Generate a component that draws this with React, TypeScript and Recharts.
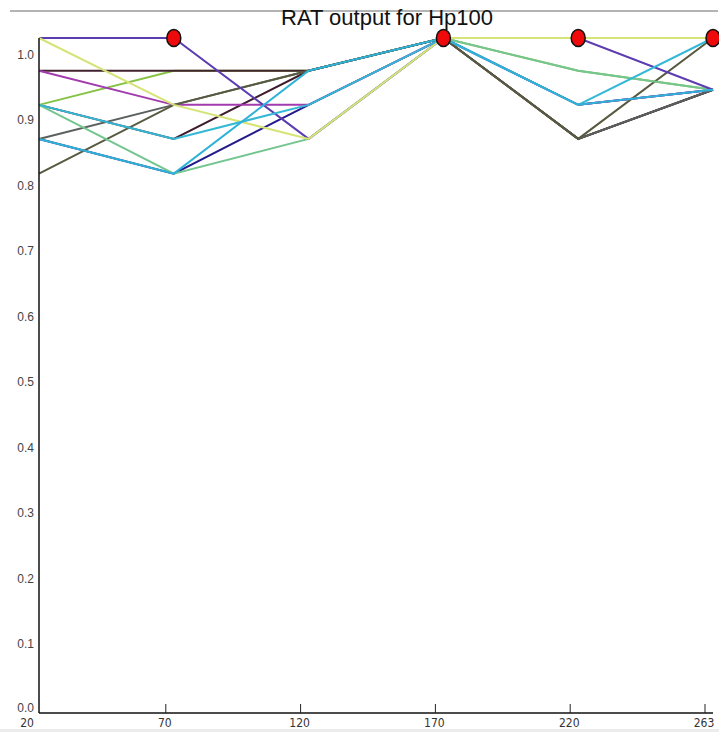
import { LineChart, Line, XAxis, YAxis } from "recharts";

const xLabels = ["20", "70", "120", "170", "220", "263"];
const yTicks = [0, 0.1, 0.2, 0.3, 0.4, 0.5, 0.6, 0.7, 0.8, 0.9, 1.0];

// each run drawn through the six checkpoints
const navyRun = [0.876, 0.823, 0.928, 1.03, 0.928, 0.951];
const maroon2Run = [0.928, 0.876, 0.98, 1.03, 0.876, 0.951];
const limeRun = [0.928, 0.98, 0.98, 1.03, 0.98, 0.951];
const maroonRun = [0.98, 0.98, 0.98, 1.03, 0.876, 0.951];
const magentaRun = [0.98, 0.928, 0.928, 1.03, 0.928, 0.951];
const darkGrayRun = [0.876, 0.928, 0.98, 1.03, 0.876, 0.951];
const oliveRun = [0.823, 0.928, 0.98, 1.03, 0.876, 1.03];
const seafoamRun = [0.928, 0.823, 0.876, 1.03, 0.98, 0.951];
const purpleRun = [1.03, 1.03, 0.876, 1.03, 1.03, 0.951];
const yellowRun = [1.03, 0.928, 0.876, 1.03, 1.03, 1.03];
const cyanARun = [0.928, 0.876, 0.928, 1.03, 0.928, 1.03];
const cyanBRun = [0.876, 0.823, 0.98, 1.03, 0.928, 0.951];
const markers = [null, 1.03, null, 1.03, 1.03, 1.03];

const series = [
  { key: "navy", values: navyRun, color: "#241a8c" },
  { key: "maroon2", values: maroon2Run, color: "#3e1c2e" },
  { key: "lime", values: limeRun, color: "#86c244" },
  { key: "maroon", values: maroonRun, color: "#42222e" },
  { key: "magenta", values: magentaRun, color: "#a23cae" },
  { key: "darkGray", values: darkGrayRun, color: "#5a605c" },
  { key: "olive", values: oliveRun, color: "#585a40" },
  { key: "seafoam", values: seafoamRun, color: "#74c690" },
  { key: "purple", values: purpleRun, color: "#5c3cb0" },
  { key: "yellow", values: yellowRun, color: "#d6e476" },
  { key: "cyanA", values: cyanARun, color: "#34b8d6" },
  { key: "cyanB", values: cyanBRun, color: "#2eb2d8" },
];

const data = xLabels.map((label, i) => {
  const row: Record<string, any> = { x: label, marker: markers[i] };
  series.forEach((s) => (row[s.key] = s.values[i]));
  return row;
});

const XTick = (props: any) => {
  const { x, y, payload, index } = props;
  return (
    <g>
      {index > 0 && (
        <line x1={x - 8} x2={x - 8} y1={y} y2={y - 9} stroke="#222" strokeWidth={1} />
      )}
      <text
        x={index === 0 ? x - 12 : x - 9}
        y={y + 14}
        textAnchor="middle"
        fontSize={12}
        fill="#333"
        fontFamily="'Liberation Sans Narrow', 'DejaVu Sans Condensed', sans-serif"
      >
        {payload.value}
      </text>
    </g>
  );
};

const YTick = (props: any) => {
  const { x, y, payload } = props;
  return (
    <text
      x={x}
      y={y}
      dy={payload.value === 0 ? -1 : 1}
      textAnchor="end"
      fontSize={12}
      fill="#444"
    >
      {payload.value.toFixed(1)}
    </text>
  );
};

const RedDot = (props: any) => {
  const { cx, cy, value } = props;
  if (value == null || cy == null) return <g key={props.key} />;
  return (
    <ellipse
      key={props.key}
      cx={cx}
      cy={cy}
      rx={7}
      ry={8.5}
      fill="#ee0a0a"
      stroke="#111"
      strokeWidth={1.5}
    />
  );
};

export default function App() {
  return (
    <div
      style={{
        position: "absolute",
        left: 0,
        top: 0,
        width: 719,
        height: 732,
        background: "#fff",
        overflow: "hidden",
        fontFamily: "'Liberation Sans', Arial, sans-serif",
      }}
    >
      {/* top rule */}
      <div
        style={{
          position: "absolute",
          left: 10,
          top: 10,
          width: 708,
          height: 0,
          borderTop: "2px solid #b4b4b4",
        }}
      />
      <div
        style={{
          position: "absolute",
          left: 0,
          top: 729,
          width: 719,
          height: 3,
          background: "#ececec",
        }}
      />
      <LineChart
        width={719}
        height={732}
        data={data}
        margin={{ top: 38, right: 6, bottom: 0, left: 0 }}
      >
        <XAxis
          dataKey="x"
          height={19}
          tickLine={false}
          tickSize={0}
          tickMargin={0}
          axisLine={{ stroke: "#111", strokeWidth: 1.5 }}
          tick={<XTick />}
          interval={0}
        />
        <YAxis
          type="number"
          domain={[0, 1.03]}
          ticks={yTicks}
          width={39}
          tickLine={false}
          tickSize={0}
          tickMargin={5}
          axisLine={{ stroke: "#111", strokeWidth: 1.5 }}
          tick={<YTick />}
        />
        {series.map((s) => (
          <Line
            key={s.key}
            dataKey={s.key}
            stroke={s.color}
            strokeWidth={2}
            dot={false}
            activeDot={false}
            isAnimationActive={false}
          />
        ))}
        <Line
          dataKey="marker"
          stroke="none"
          dot={<RedDot />}
          activeDot={false}
          connectNulls={false}
          isAnimationActive={false}
        />
      </LineChart>
      <div
        style={{
          position: "absolute",
          left: 0,
          width: 774,
          top: 5,
          textAlign: "center",
          fontSize: 22,
          color: "#111",
          lineHeight: "26px",
        }}
      >
        RAT output for Hp100
      </div>
    </div>
  );
}
